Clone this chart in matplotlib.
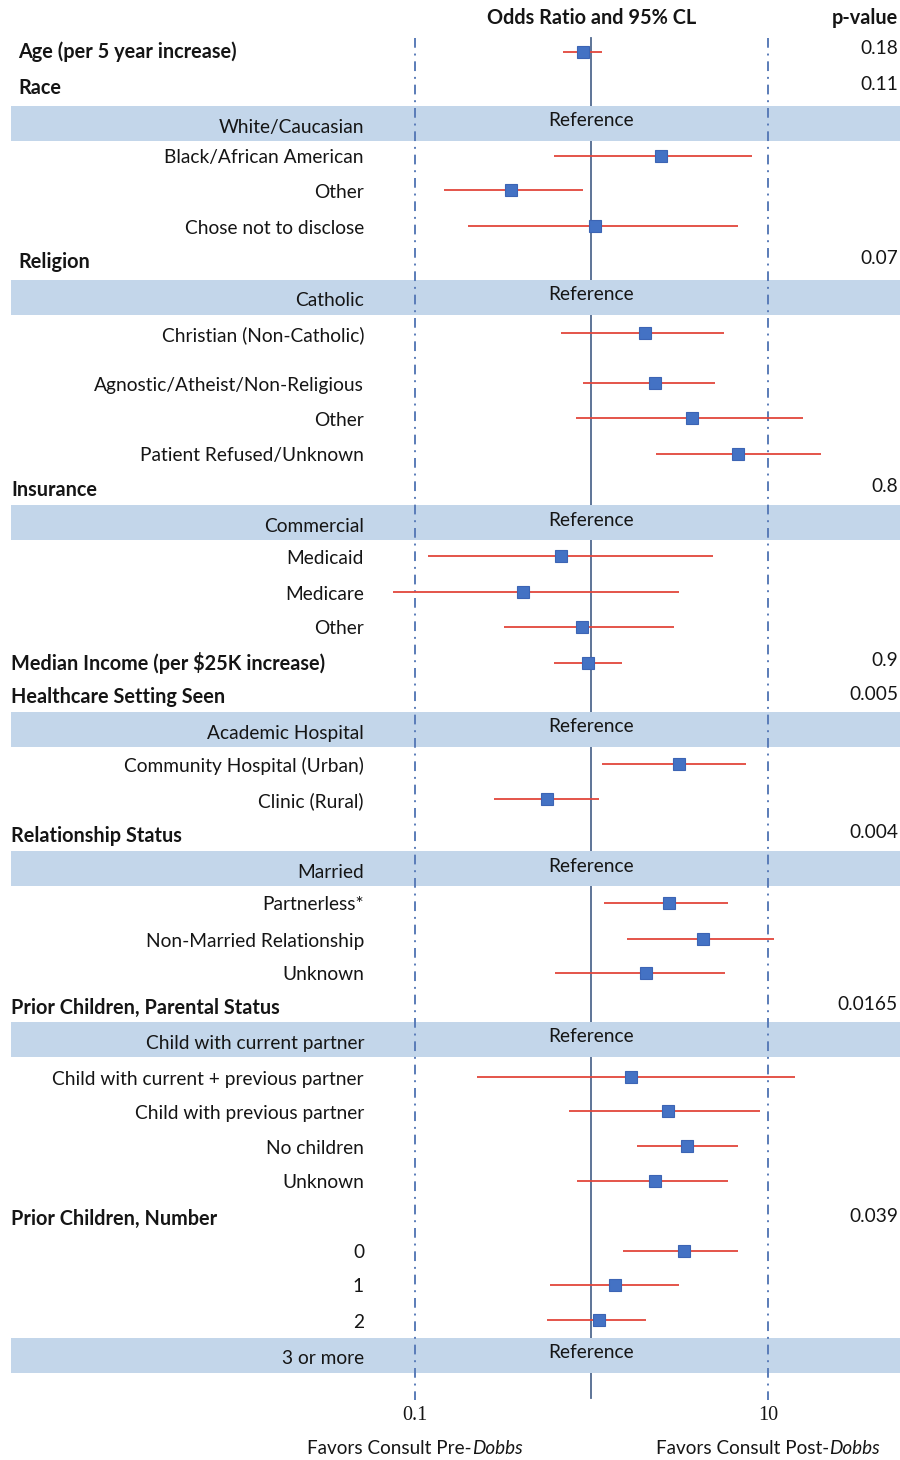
import numpy as np
import matplotlib
matplotlib.use("Agg")
import matplotlib.pyplot as plt

# ---- data -------------------------------------------------------------
labels = [
    "Age (per 5 year increase)", "Race", "White/Caucasian", "Black/African American",
    "Other", "Chose not to disclose", "Religion", "Catholic", "Christian (Non-Catholic)",
    "Agnostic/Atheist/Non-Religious", "Other", "Patient Refused/Unknown", "Insurance",
    "Commercial", "Medicaid", "Medicare", "Other", "Median Income (per $25K increase)",
    "Healthcare Setting Seen", "Academic Hospital", "Community Hospital (Urban)",
    "Clinic (Rural)", "Relationship Status", "Married", "Partnerless*",
    "Non-Married Relationship", "Unknown", "Prior Children, Parental Status",
    "Child with current partner", "Child with current + previous partner",
    "Child with previous partner", "No children", "Unknown", "Prior Children, Number",
    "0", "1", "2", "3 or more",
]
# g = variable heading, r = reference level, c = compared level
kinds = [
    "g", "g", "r", "c", "c", "c", "g", "r", "c", "c", "c", "c", "g",
    "r", "c", "c", "c", "g", "g", "r", "c", "c", "g", "r", "c",
    "c", "c", "g", "r", "c", "c", "c", "c", "g",
    "c", "c", "c", "r",
]
nan = np.nan
odds_ratio = [
    0.90, nan, nan, 2.47, 0.35, 1.05, nan, nan, 2.00, 2.28, 3.70, 6.76, nan,
    nan, 0.67, 0.41, 0.88, 0.95, nan, nan, 3.12, 0.56, nan, nan, 2.74,
    4.27, 2.03, nan, nan, 1.67, 2.70, 3.46, 2.28, nan,
    3.33, 1.35, 1.11, nan,
]
ci_low = [
    0.69, nan, nan, 0.61, 0.146, 0.20, nan, nan, 0.67, 0.89, 0.82, 2.31, nan,
    nan, 0.119, 0.075, 0.32, 0.61, nan, nan, 1.15, 0.28, nan, nan, 1.17,
    1.58, 0.62, nan, nan, 0.225, 0.75, 1.80, 0.83, nan,
    1.50, 0.58, 0.56, nan,
]
ci_high = [
    1.14, nan, nan, 8.1, 0.89, 6.76, nan, nan, 5.62, 5.0, 15.8, 20.0, nan,
    nan, 4.87, 3.12, 2.92, 1.48, nan, nan, 7.5, 1.10, nan, nan, 5.93,
    10.8, 5.7, nan, nan, 14.2, 9.0, 6.76, 5.93, nan,
    6.76, 3.12, 2.03, nan,
]
p_values = {
    "Age (per 5 year increase)": "0.18", "Race": "0.11", "Religion": "0.07",
    "Insurance": "0.8", "Median Income (per $25K increase)": "0.9",
    "Healthcare Setting Seen": "0.005", "Relationship Status": "0.004",
    "Prior Children, Parental Status": "0.0165", "Prior Children, Number": "0.039",
}

# ---- layout (pixel rows, top-down) ------------------------------------
row_y = [52, 88, 123, 158, 192, 228, 262, 297, 335, 385, 420, 456, 490,
         522, 558, 594, 629, 663, 697, 729, 766, 801, 836, 868, 905,
         941, 975, 1008, 1039, 1079, 1113, 1148, 1183, 1219,
         1253, 1287, 1322, 1355]

W, H = 900, 1460
fig = plt.figure(figsize=(W / 100, H / 100), dpi=100)
ax = fig.add_axes([0, 0, 1, 1])
ax.set_xscale("log")
px_dec = 176.5
x01 = 415.0
ax.set_xlim(10 ** (-1 - x01 / px_dec), 10 ** (-1 + (W - x01) / px_dec))
ax.set_ylim(H, 0)
ax.axis("off")

SANS = "Lato"
FS = 13.8
FSB = 14.3
INK = "#151515"
tx = ax.get_yaxis_transform()  # x in axes fraction, y in data (pixels)

band_col = "#c3d6ea"
ax.plot([1, 1], [38, 1398], color="#51698f", lw=1.3, zorder=1)
for v in (0.1, 10):
    ax.plot([v, v], [38, 1400], color="#5a7cb8", lw=1.4,
            linestyle=(0, (5, 3, 1, 3)), zorder=3)

for lab, kind, y, est, lo, hi in zip(labels, kinds, row_y, odds_ratio, ci_low, ci_high):
    if kind == "g":
        indent = 18 if y < 300 else 11
        ax.text(indent / W, y, lab, transform=tx, fontsize=FSB, family=SANS,
                weight="bold", ha="left", va="center", color=INK)
        if lab in p_values:
            ax.text(898 / W, y - 3, p_values[lab], transform=tx, fontsize=FS,
                    family=SANS, ha="right", va="center", color=INK)
    elif kind == "r":
        ax.axhspan(y - 17.5, y + 17.5, xmin=11 / W, xmax=1, color=band_col,
                   lw=0, zorder=2)
        ax.text(364 / W, y + 4, lab, transform=tx, fontsize=FS, family=SANS,
                ha="right", va="center", color=INK, zorder=4)
        ax.text(1.0, y - 2, "Reference", fontsize=FS, family=SANS,
                ha="center", va="center", color=INK, zorder=4)
    else:
        ax.text(364 / W, y, lab, transform=tx, fontsize=FS, family=SANS,
                ha="right", va="center", color=INK)

    if not np.isnan(est):
        ym = y - 2 if kind == "c" else y
        ax.hlines(ym, lo, hi, color="#e2463c", lw=1.3, zorder=4)
        ax.plot(est, ym, marker="s", ms=9, mfc="#4472c4", mec="#3c64b4",
                mew=0.8, zorder=5)

# column headings
ax.text(1.0, 18, "Odds Ratio and 95% CL", fontsize=FSB, family=SANS, weight="bold",
        ha="center", va="center", color=INK)
ax.text(898 / W, 18, "p-value", transform=tx, fontsize=FSB, family=SANS,
        weight="bold", ha="right", va="center", color=INK)

# x tick labels
for v, s in ((0.1, "0.1"), (10, "10")):
    ax.text(v, 1415, s, fontsize=14.5, family="Liberation Serif",
            ha="center", va="center", color=INK)

# direction captions with italic case name
renderer = fig.canvas.get_renderer()


def mixed_caption(xc, y, parts):
    pieces = []
    for txt, style in parts:
        t = ax.text(0, y, txt, transform=tx, fontsize=13.6, family=SANS,
                    style=style, ha="left", va="center", color=INK)
        pieces.append(t)
    widths = [p.get_window_extent(renderer).width for p in pieces]
    total = sum(widths)
    cx = ax.transData.transform((xc, 0))[0]
    left = cx - total / 2
    for p, w in zip(pieces, widths):
        p.set_x(left / W)
        left += w


mixed_caption(0.1, 1449, [("Favors Consult Pre-", "normal"), ("Dobbs", "italic")])
mixed_caption(10, 1449, [("Favors Consult Post-", "normal"), ("Dobbs", "italic")])

fig.savefig("out.png", dpi=100)
